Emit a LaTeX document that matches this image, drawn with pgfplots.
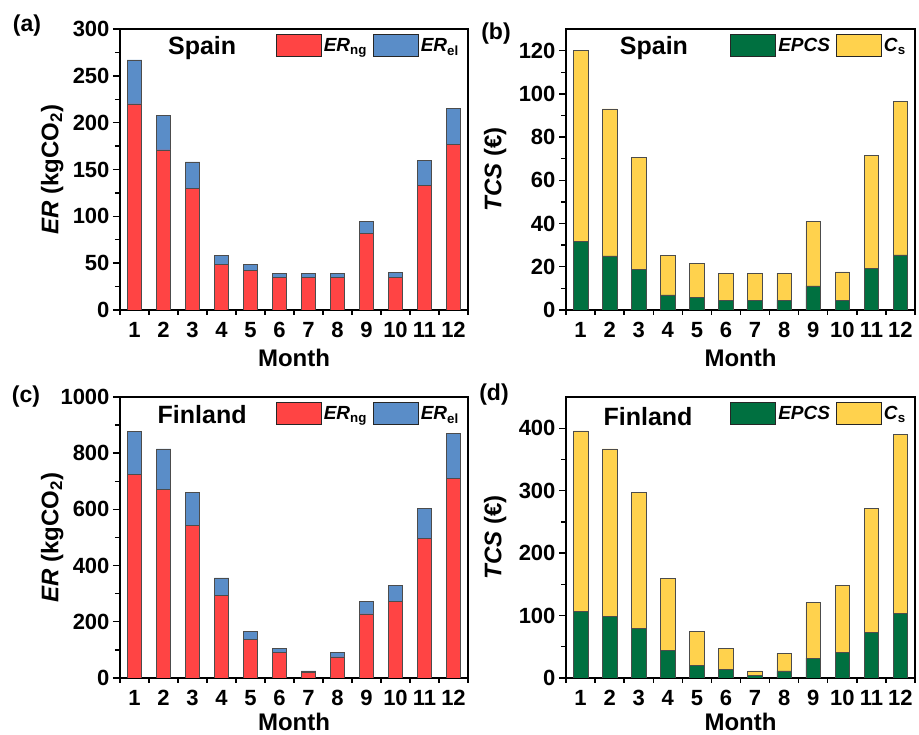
\documentclass[border=0pt]{standalone}
\usepackage{fontspec}
\setmainfont{Liberation Sans}
\usepackage{pgfplots}
\pgfplotsset{compat=1.18}
\definecolor{cred}{HTML}{FF4444}
\definecolor{cblue}{HTML}{5A8DC8}
\definecolor{cgreen}{HTML}{007040}
\definecolor{cyellow}{HTML}{FFD24D}
\newcommand{\tfont}{\fontsize{22}{22}\selectfont\bfseries}
\pgfplotsset{
  mylegend/.style={legend image code/.code={\draw[##1,draw=black!85,line width=0.9pt] (0pt,-11pt) rectangle (45pt,11pt);}},
  panel/.style={
    scale only axis, width=348pt, height=281pt,
    ybar stacked, bar width=0.5,
    xmin=0.5, xmax=12.5,
    xtick={1,2,3,4,5,6,7,8,9,10,11,12},
    major x tick style={draw=none},
    minor xtick={0.5,1.5,2.5,3.5,4.5,5.5,6.5,7.5,8.5,9.5,10.5,11.5,12.5},
    ymin=0,
    minor y tick num=1,
    tick align=outside, xtick pos=bottom, ytick pos=left,
    major tick length=7pt, minor tick length=5pt,
    axis line style={line width=1.6pt},
    every tick/.style={line width=1.4pt, black},
    tick label style={font=\tfont},
    /pgf/number format/assume math mode=true,
    /pgf/number format/1000 sep={},
    xticklabel style={yshift=-2pt},
    xlabel={Month},
    xlabel style={font=\fontsize{24}{24}\selectfont\bfseries, at={(axis description cs:0.5,0)}, anchor=center, yshift=-48pt},
    ylabel style={font=\fontsize{24}{24}\selectfont\bfseries, anchor=center},
    legend style={draw=none, fill=none, at={(axis description cs:1,1)}, anchor=north east, xshift=-4pt, yshift=-3pt,
      legend columns=-1, font=\fontsize{19}{19}\selectfont\bfseries,
      /tikz/every even column/.append style={column sep=4pt}},
    every axis plot/.append style={draw=black!70, line width=0.6pt},
  }
}
\begin{document}
\begin{tikzpicture}[x=1pt,y=1pt]
\path[use as bounding box] (0,0) rectangle (919,735);
% (a)
\begin{axis}[panel, at={(120pt,425pt)}, anchor=south west,
  ymax=300, ytick={0,50,...,300},
  ylabel={\textit{ER} (kgCO\textsubscript{2})},
  ylabel style={at={(axis description cs:-0.195,0.5)}}]
\addplot[fill=cred, mylegend] coordinates {(1,220) (2,171) (3,130) (4,49) (5,42) (6,35) (7,35) (8,35) (9,82) (10,35) (11,133) (12,177)};
\addplot[fill=cblue, mylegend] coordinates {(1,47) (2,37) (3,28) (4,9) (5,7) (6,4) (7,4) (8,4) (9,13) (10,5) (11,27) (12,38)};
\legend{\textit{ER}\textsubscript{ng}, \textit{ER}\textsubscript{el}}
\node[font=\fontsize{25}{25}\selectfont\bfseries] at (axis description cs:0.236,0.932) {Spain};
\end{axis}
% (b)
\begin{axis}[panel, at={(566pt,425pt)}, anchor=south west, width=349pt,
  ymax=130, ytick={0,20,...,120},
  ylabel={\textit{TCS} (€)},
  ylabel style={at={(axis description cs:-0.203,0.5)}}]
\addplot[fill=cgreen, mylegend] coordinates {(1,31.8) (2,25) (3,18.8) (4,7) (5,5.9) (6,4.6) (7,4.6) (8,4.6) (9,11.1) (10,4.6) (11,19.2) (12,25.5)};
\addplot[fill=cyellow, mylegend] coordinates {(1,88.2) (2,68) (3,51.9) (4,18.3) (5,15.7) (6,12.5) (7,12.5) (8,12.5) (9,29.9) (10,13) (11,52.5) (12,71)};
\legend{\textit{EPCS}, \textit{C}\textsubscript{s}}
\node[font=\fontsize{25}{25}\selectfont\bfseries] at (axis description cs:0.252,0.932) {Spain};
\end{axis}
% (c)
\begin{axis}[panel, at={(120pt,57pt)}, anchor=south west,
  ymax=1000, ytick={0,200,...,1000},
  ylabel={\textit{ER} (kgCO\textsubscript{2})},
  ylabel style={at={(axis description cs:-0.195,0.5)}},
  xlabel style={yshift=4pt}]
\addplot[fill=cred, mylegend] coordinates {(1,724) (2,670) (3,543) (4,293) (5,138) (6,91) (7,21) (8,75) (9,228) (10,272) (11,497) (12,710)};
\addplot[fill=cblue, mylegend] coordinates {(1,154) (2,145) (3,117) (4,63) (5,28) (6,15) (7,4) (8,15) (9,45) (10,58) (11,107) (12,160)};
\legend{\textit{ER}\textsubscript{ng}, \textit{ER}\textsubscript{el}}
\node[font=\fontsize{25}{25}\selectfont\bfseries] at (axis description cs:0.236,0.936) {Finland};
\end{axis}
% (d)
\begin{axis}[panel, at={(566pt,57pt)}, anchor=south west, width=349pt,
  ymax=450, ytick={0,100,...,400},
  ylabel={\textit{TCS} (€)},
  ylabel style={at={(axis description cs:-0.203,0.5)}},
  xlabel style={yshift=4pt}]
\addplot[fill=cgreen, mylegend] coordinates {(1,106.7) (2,98) (3,79) (4,43.7) (5,20) (6,13.3) (7,3.7) (8,11.2) (9,32) (10,41.6) (11,73.6) (12,104)};
\addplot[fill=cyellow, mylegend] coordinates {(1,289) (2,269) (3,218.6) (4,116.3) (5,54.7) (6,34.7) (7,7.5) (8,28.3) (9,89) (10,107.2) (11,198.4) (12,286.4)};
\legend{\textit{EPCS}, \textit{C}\textsubscript{s}}
\node[font=\fontsize{25}{25}\selectfont\bfseries] at (axis description cs:0.235,0.929) {Finland};
\end{axis}
\node[font=\fontsize{23}{23}\selectfont\bfseries] at (27,709) {(a)};
\node[font=\fontsize{23}{23}\selectfont\bfseries] at (496,701) {(b)};
\node[font=\fontsize{23}{23}\selectfont\bfseries] at (26,338) {(c)};
\node[font=\fontsize{23}{23}\selectfont\bfseries] at (494,340) {(d)};
\end{tikzpicture}
\end{document}
